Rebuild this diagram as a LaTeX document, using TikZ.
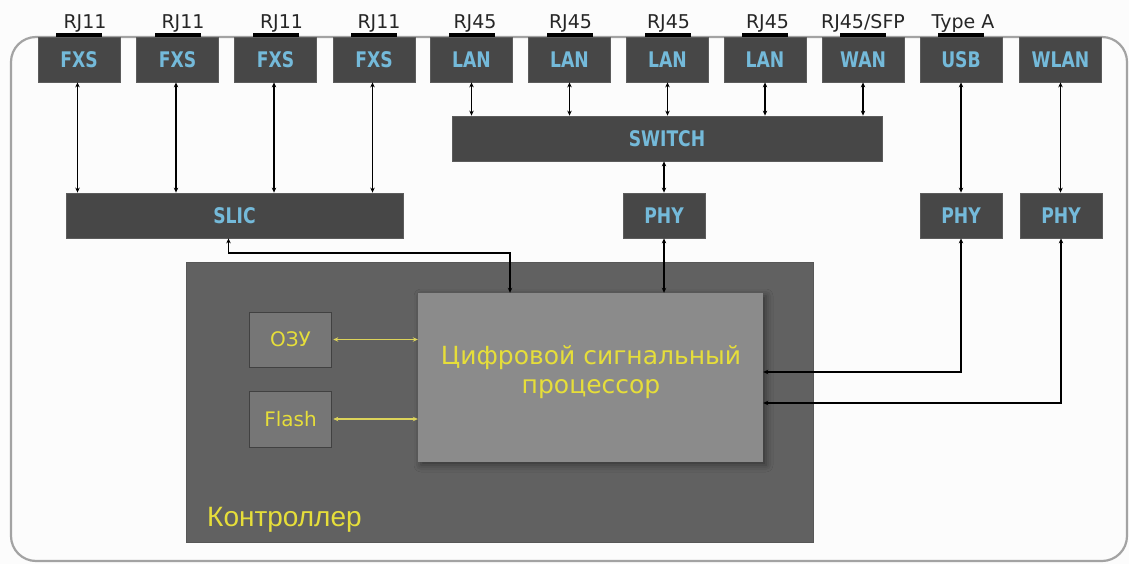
\documentclass[tikz,border=0pt]{standalone}
\usepackage{fontspec}
\setmainfont{DejaVu Sans}
\newfontfamily\boxfont[FakeStretch=0.8]{DejaVu Sans}
\newfontfamily\ctrlfont{Liberation Sans}
\usetikzlibrary{arrows.meta,shadows.blur,calc}
\definecolor{boxgray}{HTML}{474747}
\definecolor{boxedge}{HTML}{5C5C5C}
\definecolor{lblue}{HTML}{74BADA}
\definecolor{ctrlgray}{HTML}{616161}
\definecolor{dspgray}{HTML}{8B8B8B}
\definecolor{memgray}{HTML}{767676}
\definecolor{yel}{HTML}{E6DE3A}
\definecolor{yelline}{HTML}{DCD35A}
\definecolor{outer}{HTML}{A3A3A3}
\tikzset{
  pbox/.style={fill=boxgray,draw=boxedge,line width=0.8pt,inner sep=0pt,
    text=lblue,font=\boxfont\bfseries\fontsize{21.5}{23}\selectfont},
  toplbl/.style={inner sep=0pt,text=black!85,font=\fontsize{19}{21}\selectfont,anchor=base},
  conbar/.style={fill=black,draw=none,minimum width=46pt,minimum height=4pt,inner sep=0pt},
  memb/.style={fill=memgray,draw=black!45!memgray,line width=0.6pt,inner sep=0pt,
    minimum width=82pt,text=yel,font=\fontsize{20}{22}\selectfont},
  dbl/.style={line width=1.3pt,black,{Stealth[length=5pt,width=4.5pt]}-{Stealth[length=5pt,width=4.5pt]}},
  ydbl/.style={line width=1.2pt,yelline,{Stealth[length=5pt,width=4.5pt]}-{Stealth[length=5pt,width=4.5pt]}}
}
\begin{document}
\begin{tikzpicture}[x=1pt,y=-1pt]
\useasboundingbox (0,0) rectangle (1129,564);
\fill[white!99!black] (0,0) rectangle (1129,564);
% outer board
\draw[outer,line width=2.2pt,rounded corners=25pt] (11,37) rectangle (1127,561);

% connector bars
\foreach \x/\n in {79/b1,177.5/b2,275.5/b3,374/b4,471.5/b5,569.5/b6,667.5/b7,765/b8,863/b9,961/b10}
  \node[conbar] (\n) at (\x,35) {};

% port boxes
\foreach \x/\n/\t in {79/fxs1/FXS,177.5/fxs2/FXS,275.5/fxs3/FXS,374/fxs4/FXS,
  471.5/lan1/LAN,569.5/lan2/LAN,667.5/lan3/LAN,765/lan4/LAN,
  863/wan/WAN,961/usb/USB,1060.5/wlan/WLAN}
  \node[pbox,minimum width=82pt,minimum height=45pt] (\n) at (\x,59.5) {\t};

% top labels
\foreach \x/\n/\t in {85/l1/RJ11,183/l2/RJ11,281.5/l3/RJ11,379/l4/RJ11,
  475/l5/RJ45,570.5/l6/RJ45,668.5/l7/RJ45,767.5/l8/RJ45,863/l9/RJ45\slash SFP,963/l10/Type A}
  \node[toplbl] (\n) at (\x,29) {\t};

% second row
\node[pbox,minimum width=430pt,minimum height=45pt] (switch) at (667,138.5) {SWITCH};
\node[pbox,minimum width=337pt,minimum height=45pt] (slic) at (234.5,215.5) {SLIC};
\node[pbox,minimum width=82pt,minimum height=45pt] (phy1) at (664,215.5) {PHY};
\node[pbox,minimum width=82pt,minimum height=45pt] (phy2) at (961,215.5) {PHY};
\node[pbox,minimum width=82pt,minimum height=45pt] (phy3) at (1061,215.5) {PHY};

% controller
\node[fill=ctrlgray,draw=ctrlgray!90!black,line width=0.6pt,minimum width=627pt,minimum height=280pt,inner sep=0pt] (ctrl) at (499.5,402) {};
\node[anchor=base west,inner sep=0pt,text=yel,font=\ctrlfont\fontsize{28}{30}\selectfont] (ctrllbl) at (207,526) {Контроллер};

\node[fill=dspgray,inner sep=0pt,minimum width=345pt,minimum height=169pt,
  blur shadow={shadow xshift=3pt,shadow yshift=-3pt,shadow blur radius=7pt,shadow opacity=45}] (dsp) at (590.5,377.5) {};
\node[align=center,inner sep=0pt,text=yel,font=\fontsize{25}{29}\selectfont] (dsplbl) at (591,372) {Цифровой сигнальный\\процессор};

\node[memb,minimum height=55pt] (ozu) at (290.5,339.5) {ОЗУ};
\node[memb,minimum height=56pt] (flash) at (290.5,419) {Flash};

% connectors
\foreach \n in {fxs1,fxs2,fxs3,fxs4}
  \draw[dbl] ([xshift=-1.5pt]\n.south) -- ([xshift=-1.5pt]\n.south |- slic.north);
\foreach \n in {lan1,lan2,lan3,lan4,wan}
  \draw[dbl] (\n.south) -- (\n.south |- switch.north);
\draw[dbl] (phy1.north) -- (phy1.north |- switch.south);
\draw[dbl] (phy1.south) -- (phy1.south |- dsp.north);
\coordinate (j1) at (369,253);
\draw[dbl] ([xshift=-6pt]slic.south) |- (j1) -| ([xshift=-80.5pt]dsp.north);
\draw[dbl] (usb.south) -- (usb.south |- phy2.north);
\draw[dbl] (wlan.south) -- (wlan.south |- phy3.north);
\draw[dbl] (phy2.south) |- ([yshift=5.5pt]dsp.east);
\draw[dbl] (phy3.south) |- ([yshift=-25.5pt]dsp.east);
\draw[ydbl] ([xshift=1.5pt]ozu.east) -- (ozu.east -| dsp.west);
\draw[ydbl] ([xshift=1.5pt]flash.east) -- (flash.east -| dsp.west);
\end{tikzpicture}
\end{document}
